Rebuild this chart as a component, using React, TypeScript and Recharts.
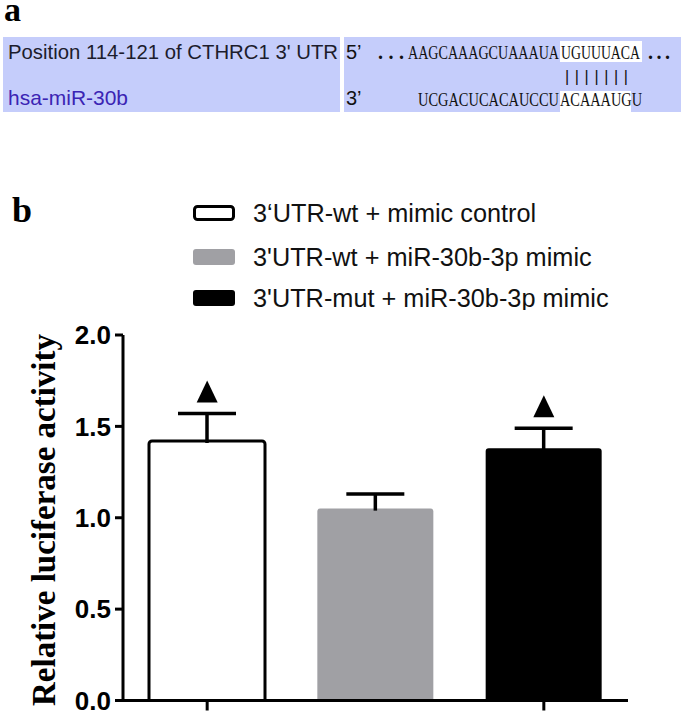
import { ComposedChart, Bar, Scatter, XAxis, YAxis, Cell } from 'recharts';

const groups = ['3‘UTR-wt + mimic control', "3'UTR-wt + miR-30b-3p mimic", "3'UTR-mut + miR-30b-3p mimic"];
const means = [1.42, 1.05, 1.38];
const sems = [0.15, 0.08, 0.11];
const marked = [true, false, true];
const yTicks = [0, 0.5, 1.0, 1.5, 2.0];

const fills = ['#ffffff', '#a0a0a4', '#000000'];
const sans = '"Liberation Sans", Arial, sans-serif';
const serif = '"Liberation Serif", "Times New Roman", serif';

const data = groups.map((g, i) => ({
  group: g,
  mean: means[i],
  sem: sems[i],
  mark: marked[i] ? means[i] + sems[i] : null,
}));

// upper-only error bar, drawn from the stacked sem segment
function ErrShape(props: any) {
  const { x, y, width, height } = props;
  if (x == null || height == null) return <g />;
  const cx = x + width / 2;
  return (
    <g stroke="#000" strokeWidth={3.5}>
      <line x1={cx} y1={y} x2={cx} y2={y + height + 2} />
      <line x1={cx - 29} y1={y} x2={cx + 29} y2={y} />
    </g>
  );
}

function Triangle(props: any) {
  const { cx, cy, payload } = props;
  if (payload == null || payload.mark == null) return <g />;
  const b = cy - 11;
  return <path d={`M${cx - 10.5},${b} L${cx + 10.5},${b} L${cx},${b - 22} Z`} fill="#000" />;
}

const noTick = () => <g />;

// tall, narrow sequence letters like the TargetScan picture
function Seq({ x, y, w, s }: { x: number; y: number; w: number; s: string }) {
  return (
    <g transform={`translate(${x},${y}) scale(1,1.4)`}>
      <text x={0} y={0} fontFamily={serif} fontSize={14.2} fill="#111" textLength={w} lengthAdjust="spacingAndGlyphs">
        {s}
      </text>
    </g>
  );
}

function PanelA() {
  const bg = '#c5cdfb';
  return (
    <svg width={685} height={120} style={{ position: 'absolute', left: 0, top: 0 }}>
      <text x={4} y={21} fontFamily={serif} fontWeight="bold" fontSize={34}>a</text>
      <rect x={3} y={37} width={337} height={75} fill={bg} />
      <rect x={344} y={37} width={337} height={75} fill={bg} />
      <g transform="translate(8,59) scale(1,1.05)">
        <text x={0} y={0} fontFamily={sans} fontSize={20} fill="#1c1c2c" textLength={330} lengthAdjust="spacingAndGlyphs">
          Position 114-121 of CTHRC1 3' UTR
        </text>
      </g>
      <text x={8} y={105} fontFamily={sans} fontSize={21} fill="#3b24b4" textLength={120} lengthAdjust="spacingAndGlyphs">
        hsa-miR-30b
      </text>
      <text x={346} y={59} fontFamily={sans} fontSize={20} fill="#111">5’</text>
      <text x={346} y={105} fontFamily={sans} fontSize={20} fill="#111">3’</text>
      <rect x={560} y={41} width={82} height={21} fill="#fff" />
      <rect x={560} y={91} width={71} height={21} fill="#fff" />
      <text x={378} y={59} fontFamily={serif} fontSize={20} fontWeight="bold" fill="#111" textLength={26} lengthAdjust="spacing">...</text>
      <Seq x={408} y={59} w={151} s="AAGCAAAGCUAAAUA" />
      <Seq x={561} y={59} w={79} s="UGUUUACA" />
      <text x={648} y={59} fontFamily={serif} fontSize={20} fontWeight="bold" fill="#111" textLength={22} lengthAdjust="spacing">...</text>
      <text x={565} y={82} fontFamily={sans} fontSize={16} fill="#111" textLength={63} lengthAdjust="spacing">|||||||</text>
      <Seq x={418} y={106} w={141} s="UCGACUCACAUCCU" />
      <Seq x={560} y={106} w={82} s="ACAAAUGU" />
    </svg>
  );
}

function LegendBox() {
  const rows = [213, 257, 298];
  return (
    <svg width={685} height={120} style={{ position: 'absolute', left: 0, top: 190 }}>
      <text x={12} y={32} fontFamily={serif} fontWeight="bold" fontSize={36}>b</text>
      {groups.map((g, i) => (
        <g key={g}>
          <rect
            x={i === 0 ? 194.5 : 193}
            y={rows[i] - 190 - (i === 0 ? 6.5 : 8)}
            width={i === 0 ? 39 : 42}
            height={i === 0 ? 13 : 16}
            rx={3}
            fill={fills[i]}
            stroke={i === 0 ? '#000' : 'none'}
            strokeWidth={3}
          />
          <text x={253} y={rows[i] - 190 + 8.5} fontFamily={sans} fontSize={25.3} fill="#111">{g}</text>
        </g>
      ))}
    </svg>
  );
}

export default function App() {
  return (
    <div style={{ position: 'absolute', left: 0, top: 0, width: 685, height: 715, background: '#fff' }}>
      <PanelA />
      <LegendBox />
      <div style={{ position: 'absolute', left: 0, top: 0 }}>
        <ComposedChart width={685} height={715} data={data} margin={{ top: 335, right: 57, bottom: 0, left: 0 }}>
          <XAxis
            dataKey="group"
            tick={noTick}
            tickSize={10}
            height={14.5}
            axisLine={{ stroke: '#000', strokeWidth: 3 }}
            tickLine={{ stroke: '#000', strokeWidth: 3 }}
          />
          <YAxis
            width={123}
            domain={[0, 2]}
            ticks={yTicks}
            interval={0}
            tickSize={8}
            tickMargin={4}
            tickFormatter={(v: number) => v.toFixed(1)}
            tick={{ fontSize: 26, fontWeight: 'bold', fill: '#000', fontFamily: sans }}
            axisLine={{ stroke: '#000', strokeWidth: 3 }}
            tickLine={{ stroke: '#000', strokeWidth: 3 }}
            label={{
              content: () => (
                <text
                  x={55}
                  y={520}
                  transform="rotate(-90 55 520)"
                  textAnchor="middle"
                  fontFamily={serif}
                  fontWeight="bold"
                  fontSize={33}
                  fill="#000"
                >
                  Relative luciferase activity
                </text>
              ),
            }}
          />
          <Bar dataKey="mean" stackId="s" barSize={116} radius={[3, 3, 0, 0]} isAnimationActive={false}>
            {data.map((d, i) => (
              <Cell key={d.group} fill={fills[i]} stroke={i === 0 ? '#000' : 'none'} strokeWidth={3} />
            ))}
          </Bar>
          <Bar dataKey="sem" stackId="s" barSize={116} shape={ErrShape} isAnimationActive={false} />
          <Scatter dataKey="mark" shape={Triangle} isAnimationActive={false} />
        </ComposedChart>
      </div>
    </div>
  );
}
